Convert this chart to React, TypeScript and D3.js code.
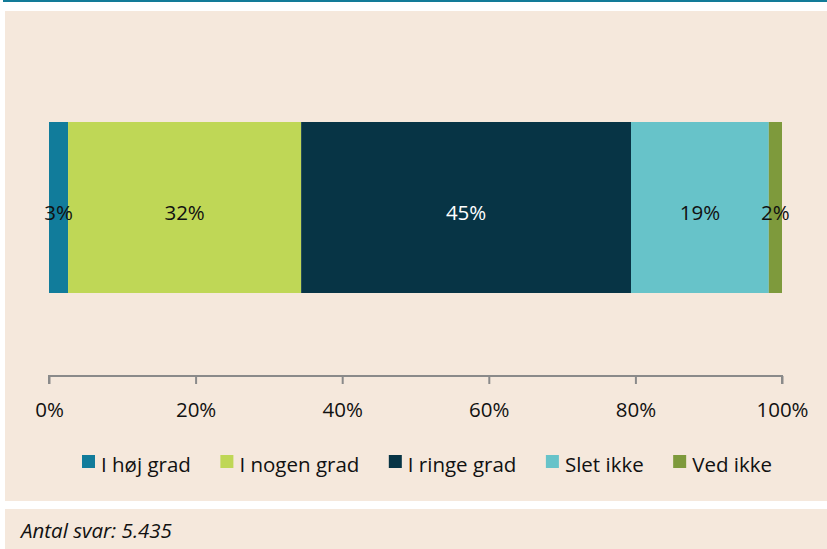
import React, { useEffect, useRef } from "react";
import * as d3 from "d3";

// answer categories and their shares (percent)
const categories = ["I høj grad", "I nogen grad", "I ringe grad", "Slet ikke", "Ved ikke"];
const shares = [2.6, 31.8, 45.0, 18.8, 1.8];
const labels = ["3%", "32%", "45%", "19%", "2%"];
const colors = ["#117c9b", "#bfd756", "#073445", "#67c3c9", "#7e9a3c"];
const labelColors = ["#111", "#111", "#fff", "#111", "#111"];
const ticks = [0, 20, 40, 60, 80, 100];
const footnote = "Antal svar: 5.435";

const W = 827, H = 549;
const FONT = "'Open Sans', 'Noto Sans', sans-serif";
const FS = 20.5;

export default function App() {
  const ref = useRef<SVGSVGElement>(null);

  useEffect(() => {
    const svg = d3.select(ref.current);
    svg.selectAll("*").remove();

    // top rule + panels
    svg.append("rect").attr("x", 3).attr("y", 0).attr("width", W - 3).attr("height", 2).attr("fill", "#127b98");
    svg.append("rect").attr("x", 5).attr("y", 11).attr("width", W - 5).attr("height", 490).attr("fill", "#f5e8dc");
    svg.append("rect").attr("x", 5).attr("y", 509).attr("width", W - 5).attr("height", 40).attr("fill", "#f5e8dc");

    const x = d3.scaleLinear().domain([0, 100]).range([49, 782]);
    const y = d3.scaleBand().domain(["all"]).range([122, 293]).padding(0);

    const stacked = shares.map((v, i) => ({ v, i, start: d3.sum(shares.slice(0, i)) }));

    const g = svg.append("g");
    g.selectAll("rect.seg").data(stacked).join("rect").attr("class", "seg")
      .attr("x", d => x(d.start))
      .attr("width", d => x(d.start + d.v) - x(d.start))
      .attr("y", y("all")!)
      .attr("height", y.bandwidth())
      .attr("fill", d => colors[d.i]);

    // labels sit a little below the bar centre, as in the original
    g.selectAll("text.lbl").data(stacked).join("text").attr("class", "lbl")
      .attr("x", d => x(d.start + d.v / 2))
      .attr("y", y("all")! + y.bandwidth() / 2 + 12.5)
      .attr("text-anchor", "middle")
      .attr("font-family", FONT).attr("font-size", FS)
      .attr("fill", d => labelColors[d.i])
      .text(d => labels[d.i]);

    // x axis
    const ax = svg.append("g").attr("transform", "translate(0,376)")
      .call(d3.axisBottom(x).tickValues(ticks).tickSize(8).tickPadding(18).tickFormat(d => `${d}%`));
    ax.select(".domain").attr("stroke", "#8a8a8a").attr("stroke-width", 2).attr("d", `M${x(0)},8V0H${x(100)}V8`);
    ax.selectAll(".tick line").attr("stroke", "#8a8a8a").attr("stroke-width", 2);
    ax.selectAll(".tick text").attr("font-family", FONT).attr("font-size", FS).attr("fill", "#111");

    // legend
    const leg = svg.append("g").attr("transform", "translate(0,472)");
    const items = leg.selectAll("g").data(categories).join("g");
    items.append("rect").attr("x", 0).attr("y", -17).attr("width", 13).attr("height", 13)
      .attr("fill", (_, i) => colors[i]);
    items.append("text").attr("x", 19)
      .attr("font-family", FONT).attr("font-size", FS).attr("fill", "#111")
      .text(d => d);
    const widths: number[] = [];
    items.each(function () {
      const t = d3.select(this).select("text").node() as SVGTextElement;
      widths.push(19 + t.getComputedTextLength());
    });
    const total = 690;
    const gap = (total - d3.sum(widths)) / (widths.length - 1);
    let cx = 82;
    items.attr("transform", (_, i) => {
      const tx = cx;
      cx += widths[i] + gap;
      return `translate(${tx},0)`;
    });

    svg.append("text").attr("x", 21).attr("y", 538)
      .attr("font-family", FONT).attr("font-size", FS).attr("font-style", "italic").attr("fill", "#111")
      .text(footnote);
  }, []);

  return (
    <svg ref={ref} width={W} height={H}
      style={{ position: "absolute", left: 0, top: 0, background: "#fff" }} />
  );
}
